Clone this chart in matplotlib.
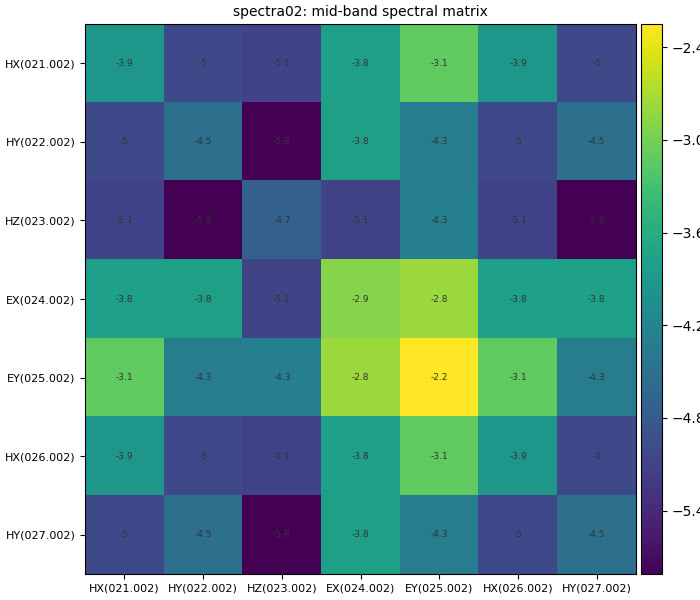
import numpy as np
from matplotlib import pyplot as plt

channels = ['HX(021.002)', 'HY(022.002)', 'HZ(023.002)', 'EX(024.002)',
            'EY(025.002)', 'HX(026.002)', 'HY(027.002)']

# log10 spectral magnitudes, symmetric matrix (channels 5,6 repeat 0,1)
row0 = [-3.92, -5.02, -5.10, -3.80, -3.12, -3.92, -5.02]
row1 = [-5.02, -4.50, -5.81, -3.78, -4.30, -5.02, -4.50]
row2 = [-5.10, -5.81, -4.72, -5.08, -4.28, -5.10, -5.81]
row3 = [-3.80, -3.78, -5.08, -2.90, -2.78, -3.80, -3.78]
row4 = [-3.12, -4.30, -4.28, -2.78, -2.25, -3.12, -4.30]
row5 = row0
row6 = row1

cbar_ticks = [-5.4, -4.8, -4.2, -3.6, -3.0, -2.4]

data = np.array([row0, row1, row2, row3, row4, row5, row6])

fig = plt.figure(figsize=(7, 6), dpi=100)
ax = fig.add_axes([0.1215, 0.0433, 0.7871, 0.9167])
cax = fig.add_axes([0.9157, 0.0433, 0.03, 0.9167])

im = ax.imshow(data, cmap='viridis', aspect='auto', interpolation='nearest')
ax.set_xticks(range(len(channels)))
ax.set_xticklabels(channels, fontsize=8)
ax.set_yticks(range(len(channels)))
ax.set_yticklabels(channels, fontsize=8)
ax.set_title('spectra02: mid-band spectral matrix', fontsize=10)

for i in range(data.shape[0]):
    for j in range(data.shape[1]):
        ax.text(j, i, f'{data[i, j]:.2g}', ha='center', va='center',
                fontsize=6.5, color='#333333')

cb = fig.colorbar(im, cax=cax)
cb.set_ticks(cbar_ticks)
cb.ax.tick_params(labelsize=10)

fig.savefig('out.png')
plt.close(fig)
